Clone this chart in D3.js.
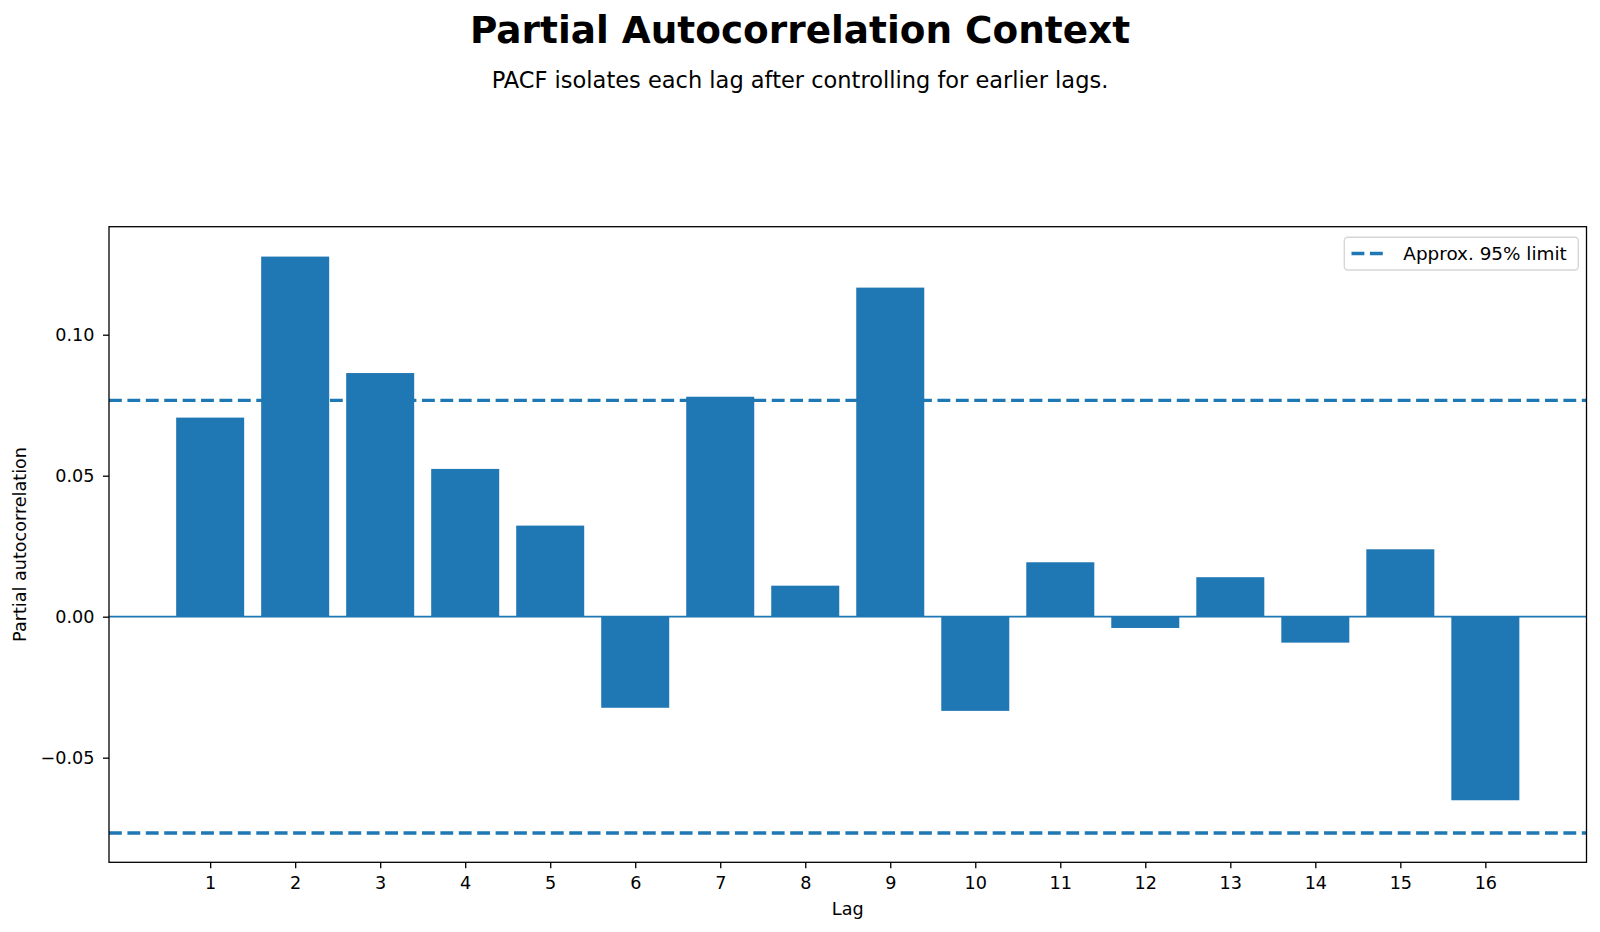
<!DOCTYPE html>
<html>
<head>
<meta charset="utf-8">
<script src="https://cdn.jsdelivr.net/npm/d3@7"></script>
<style>
  html, body { margin: 0; padding: 0; background: #fff; }
  svg { display: block; font-family: "DejaVu Sans", sans-serif; }
</style>
</head>
<body>
<svg id="chart" width="1600" height="932"></svg>
<script>
const lags = [1, 2, 3, 4, 5, 6, 7, 8, 9, 10, 11, 12, 13, 14, 15, 16];
const pacfValues = [0.0706, 0.1277, 0.0864, 0.0524, 0.0323, -0.0323, 0.0780, 0.0110,
                    0.1167, -0.0334, 0.0193, -0.0040, 0.0140, -0.0092, 0.0239, -0.0651];
const limit = 0.0767;
const yTicks = [-0.05, 0.00, 0.05, 0.10];
const titleText = "Partial Autocorrelation Context";
const subtitleText = "PACF isolates each lag after controlling for earlier lags.";
const xLabel = "Lag";
const yLabel = "Partial autocorrelation";
const legendLabel = "Approx. 95% limit";

const color = "#1f77b4";
const svg = d3.select("#chart");
const plot = { left: 109, right: 1586.5, top: 226.7, bottom: 862.3 };

const x = d3.scaleLinear().domain([-0.19, 17.19]).range([plot.left, plot.right]);
const y = d3.scaleLinear().domain([-0.0871, 0.1383]).range([plot.bottom, plot.top]);
const barW = 0.8;

// Title & subtitle
svg.append("text").attr("x", 800).attr("y", 42.5).attr("text-anchor", "middle")
  .attr("font-size", 37.4).attr("font-weight", "bold").attr("fill", "#000").text(titleText);
svg.append("text").attr("x", 800).attr("y", 88).attr("text-anchor", "middle")
  .attr("font-size", 22.5).attr("fill", "#000").text(subtitleText);

const g = svg.append("g");

// Bars
g.selectAll("rect.bar").data(lags).enter().append("rect")
  .attr("class", "bar")
  .attr("x", d => x(d - barW / 2))
  .attr("width", d => x(d + barW / 2) - x(d - barW / 2))
  .attr("y", (d, i) => y(Math.max(0, pacfValues[i])))
  .attr("height", (d, i) => Math.abs(y(pacfValues[i]) - y(0)))
  .attr("fill", color);

// Zero line
g.append("line").attr("x1", plot.left).attr("x2", plot.right)
  .attr("y1", y(0)).attr("y2", y(0)).attr("stroke", color).attr("stroke-width", 1.7);

// Limit lines
[limit, -limit].forEach(v => {
  g.append("line").attr("x1", plot.left).attr("x2", plot.right)
    .attr("y1", y(v)).attr("y2", y(v)).attr("stroke", color)
    .attr("stroke-width", 3.4).attr("stroke-dasharray", "12.85,5.56");
});

// Axes
const xAxis = d3.axisBottom(x).tickValues(lags).tickSize(6).tickPadding(8.4)
  .tickFormat(d3.format("d"));
const yAxis = d3.axisLeft(y).tickValues(yTicks).tickSize(6).tickPadding(8.5)
  .tickFormat(d => d3.format(".2f")(d).replace("-", "\u2212"));

const gx = svg.append("g").attr("transform", `translate(0,${plot.bottom})`).call(xAxis);
const gy = svg.append("g").attr("transform", `translate(${plot.left},0)`).call(yAxis);
[gx, gy].forEach(a => {
  a.select(".domain").remove();
  a.selectAll(".tick line").attr("stroke", "#000").attr("stroke-width", 1.3);
  a.selectAll(".tick text").attr("font-size", 17.6).attr("fill", "#000")
    .attr("font-family", "DejaVu Sans, sans-serif");
});

// Frame
svg.append("rect").attr("x", plot.left).attr("y", plot.top)
  .attr("width", plot.right - plot.left).attr("height", plot.bottom - plot.top)
  .attr("fill", "none").attr("stroke", "#000").attr("stroke-width", 1.3);

// Axis labels
svg.append("text").attr("x", (plot.left + plot.right) / 2).attr("y", 914.5)
  .attr("text-anchor", "middle").attr("font-size", 17.6).attr("fill", "#000").text(xLabel);
svg.append("text").attr("transform", `translate(26,${(plot.top + plot.bottom) / 2}) rotate(-90)`)
  .attr("text-anchor", "middle").attr("font-size", 17.6).attr("fill", "#000").text(yLabel);

// Legend
const lg = svg.append("g");
lg.append("rect").attr("x", 1344.3).attr("y", 237.3).attr("width", 234).attr("height", 32.7)
  .attr("rx", 3.5).attr("fill", "#fff").attr("fill-opacity", 0.8)
  .attr("stroke", "#d6d6d6").attr("stroke-width", 1.4);
lg.append("line").attr("x1", 1351.5).attr("x2", 1385.3).attr("y1", 253.5).attr("y2", 253.5)
  .attr("stroke", color).attr("stroke-width", 3.4).attr("stroke-dasharray", "12.85,5.56");
lg.append("text").attr("x", 1403.3).attr("y", 260).attr("font-size", 18.4)
  .attr("fill", "#000").text(legendLabel);
</script>
</body>
</html>
